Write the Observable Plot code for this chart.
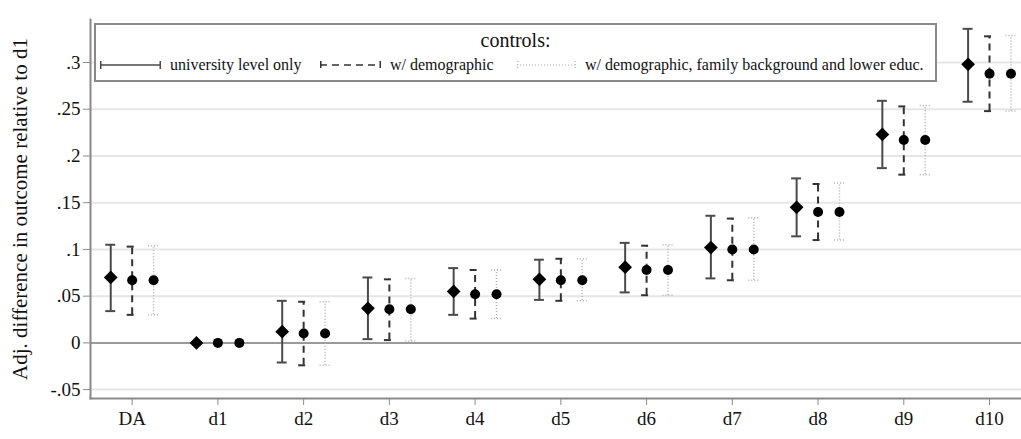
<!DOCTYPE html>
<html>
<head>
<meta charset="utf-8">
<script src="https://cdn.jsdelivr.net/npm/d3@7"></script>
<script src="https://cdn.jsdelivr.net/npm/@observablehq/plot@0.6"></script>
<style>
  html, body { margin: 0; padding: 0; background: #fff; }
  #wrap { position: relative; width: 1021px; height: 439px; font-family: "Liberation Serif", "DejaVu Serif", serif; }
  #wrap svg text { font-family: "Liberation Serif", "DejaVu Serif", serif; }
  #legend { position: absolute; left: 94px; top: 23px; width: 839px; height: 55px; border: 2px solid #8a8a8a; background: #fff; box-sizing: content-box; font-family: "Liberation Serif", "DejaVu Serif", serif; }
  #legend .title { position: absolute; left: 0; right: 0; top: 4px; text-align: center; font-size: 20px; color: #111; }
  #legend .item { position: absolute; top: 31px; display: flex; align-items: center; font-size: 16px; color: #111; white-space: nowrap; }
  #legend svg { margin-right: 9px; }
</style>
</head>
<body>
<div id="wrap"></div>
<script>
// ---- data ----
const categories = ["DA","d1","d2","d3","d4","d5","d6","d7","d8","d9","d10"];
const seriesNames = ["university level only", "w/ demographic", "w/ demographic, family background and lower educ."];
const est1 = [0.070, 0, 0.012, 0.037, 0.055, 0.068, 0.081, 0.102, 0.145, 0.223, 0.298];
const lo1  = [0.034, null, -0.021, 0.004, 0.030, 0.046, 0.054, 0.069, 0.114, 0.187, 0.258];
const hi1  = [0.105, null, 0.045, 0.070, 0.080, 0.089, 0.107, 0.136, 0.176, 0.259, 0.336];
const est2 = [0.067, 0, 0.010, 0.036, 0.052, 0.067, 0.078, 0.100, 0.140, 0.217, 0.288];
const lo2  = [0.030, null, -0.024, 0.003, 0.026, 0.045, 0.051, 0.067, 0.110, 0.180, 0.248];
const hi2  = [0.103, null, 0.044, 0.068, 0.078, 0.090, 0.104, 0.133, 0.170, 0.253, 0.328];
const est3 = [0.067, 0, 0.010, 0.036, 0.052, 0.067, 0.078, 0.100, 0.140, 0.217, 0.288];
const lo3  = [0.030, null, -0.024, 0.002, 0.026, 0.045, 0.051, 0.067, 0.110, 0.180, 0.248];
const hi3  = [0.104, null, 0.044, 0.069, 0.078, 0.090, 0.105, 0.134, 0.171, 0.254, 0.329];
const yTicks = [-0.05, 0, 0.05, 0.1, 0.15, 0.2, 0.25, 0.3];

// ---- build table ----
const offsets = [-0.25, 0, 0.25];
const styles = [
  {stroke: "#4a4a4a", width: 2, dash: null},
  {stroke: "#333", width: 2, dash: "7,5"},
  {stroke: "#b0b0b0", width: 1.5, dash: "1,2"}
];
const ests = [est1, est2, est3], los = [lo1, lo2, lo3], his = [hi1, hi2, hi3];
const rows = [];
ests.forEach((e, s) => e.forEach((v, i) => rows.push({
  s, i, x: i + offsets[s], est: v, lo: los[s][i], hi: his[s][i]
})));
const withCI = rows.filter(d => d.lo != null);
const capHalf = 0.058;

const fmt = d => d === 0 ? "0" : String(+d.toFixed(2)).replace(/^(-?)0\./, "$1.");

const serif = "'Liberation Serif', 'DejaVu Serif', serif";
const marks = [
  Plot.gridY(yTicks, {stroke: "#e6e6e6", strokeOpacity: 1, strokeWidth: 2}),
  Plot.ruleY([0], {stroke: "#9a9a9a", strokeWidth: 2}),
  Plot.frame({anchor: "left", stroke: "#8a8a8a", strokeWidth: 2}),
  Plot.frame({anchor: "bottom", stroke: "#8a8a8a", strokeWidth: 2}),
  Plot.axisY(yTicks, {tickFormat: fmt, tickSize: 7, tickPadding: 3, fontSize: 19, stroke: "#8a8a8a", fill: "#111",
    label: "Adj. difference in outcome relative to d1", labelAnchor: "center", labelArrow: "none", labelOffset: 78}),
  Plot.axisX(d3.range(categories.length), {tickFormat: i => categories[i], tickSize: 7, tickPadding: 6, fontSize: 19, stroke: "#8a8a8a", fill: "#111", label: null})
];
styles.forEach((st, s) => {
  const data = withCI.filter(d => d.s === s);
  const common = {stroke: st.stroke, strokeWidth: st.width};
  if (st.dash) common.strokeDasharray = st.dash;
  marks.push(Plot.ruleX(data, {x: "x", y1: "lo", y2: "hi", ...common}));
  marks.push(Plot.ruleY(data, {y: "hi", x1: d => d.x - capHalf, x2: d => d.x + capHalf, ...common}));
  marks.push(Plot.ruleY(data, {y: "lo", x1: d => d.x - capHalf, x2: d => d.x + capHalf, ...common}));
});
marks.push(Plot.dot(rows.filter(d => d.s === 0), {x: "x", y: "est", symbol: "diamond2", r: 6.2, fill: "#000", stroke: "none"}));
marks.push(Plot.dot(rows.filter(d => d.s > 0), {x: "x", y: "est", symbol: "circle", r: 5, fill: "#000", stroke: "none"}));

const chart = Plot.plot({
  width: 1021,
  height: 439,
  marginLeft: 90,
  marginRight: 0,
  marginTop: 19,
  marginBottom: 41,
  style: {fontFamily: serif, background: "#fff", color: "#111"},
  x: {type: "linear", domain: [-0.486, 10.373]},
  y: {domain: [-0.0595, 0.346]},
  marks
});
const wrap = document.getElementById("wrap");
wrap.appendChild(chart);
chart.querySelectorAll("[aria-label='y-axis label'] text, [aria-label='y-axis label']").forEach(t => {
  t.setAttribute("font-size", "21");
});

// ---- legend (HTML overlay) ----
const legend = document.createElement("div");
legend.id = "legend";
legend.innerHTML = `<div class="title">controls:</div>`;
const itemLeft = [4, 224, 421];
const sampleW = [61, 61, 59];
seriesNames.forEach((name, s) => {
  const st = styles[s];
  const item = document.createElement("div");
  item.className = "item";
  item.style.left = itemLeft[s] + "px";
  const w = sampleW[s];
  const svg = d3.create("svg").attr("width", w).attr("height", 12);
  const g = svg.append("g").attr("stroke", st.stroke).attr("stroke-width", s === 2 ? 1.2 : 1.5);
  if (st.dash) g.attr("stroke-dasharray", st.dash);
  g.append("line").attr("x1", 0).attr("x2", w).attr("y1", 6).attr("y2", 6);
  g.append("line").attr("x1", 0.75).attr("x2", 0.75).attr("y1", 2).attr("y2", 10).attr("stroke-dasharray", null);
  g.append("line").attr("x1", w - 0.75).attr("x2", w - 0.75).attr("y1", 2).attr("y2", 10).attr("stroke-dasharray", null);
  item.appendChild(svg.node());
  const span = document.createElement("span");
  span.textContent = name;
  item.appendChild(span);
  legend.appendChild(item);
});
wrap.appendChild(legend);
</script>
</body>
</html>
